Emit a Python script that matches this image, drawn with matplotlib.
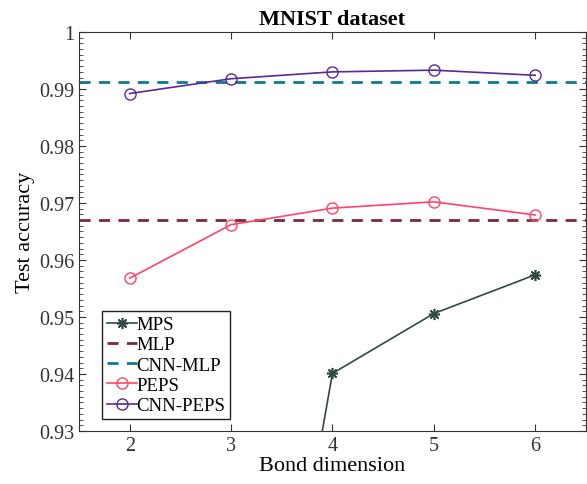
import numpy as np
import matplotlib
matplotlib.use('Agg')
import matplotlib.pyplot as plt
from matplotlib.ticker import MultipleLocator

plt.rcParams['font.family'] = ['Liberation Serif', 'DejaVu Serif']

# data
bond_dim = [2, 3, 4, 5, 6]
mps_dim = [3, 4, 5, 6]
mps_acc = [0.839, 0.9401, 0.9506, 0.9574]
mlp_acc = 0.9671
cnn_mlp_acc = 0.9913
peps_acc = [0.9568, 0.9662, 0.9691, 0.9702, 0.9679]
cnn_peps_acc = [0.9892, 0.9918, 0.9930, 0.9933, 0.9924]

xlim = (1.5, 6.5)

fig = plt.figure(figsize=(5.87, 4.85), dpi=100)
ax = fig.add_axes([0.1346, 0.1093, 0.8634, 0.8227])

ax.plot(mps_dim, mps_acc, color='#2f4a44', marker=(8, 2, 0), markersize=8,
        linewidth=1.2, label='MPS', markeredgewidth=1.2)
ax.plot(xlim, [mlp_acc, mlp_acc], color='#7a2a40', linestyle=(0, (4, 3)),
        linewidth=2.0, label='MLP')
ax.plot(xlim, [cnn_mlp_acc, cnn_mlp_acc], color='#0d7a92',
        linestyle=(0, (4, 3)), linewidth=2.0, label='CNN-MLP')
ax.plot(bond_dim, peps_acc, color='#ff4468', marker='o', markersize=8,
        markerfacecolor='none', linewidth=1.2, label='PEPS')
ax.plot(bond_dim, cnn_peps_acc, color='#5a2a94', marker='o', markersize=8,
        markerfacecolor='none', linewidth=1.2, label='CNN-PEPS')

ax.set_xlim(*xlim)
ax.set_ylim(0.93, 1.0)
ax.set_xticks(bond_dim)
ax.set_yticks([0.93, 0.94, 0.95, 0.96, 0.97, 0.98, 0.99, 1.0])
ax.set_yticklabels(['0.93', '0.94', '0.95', '0.96', '0.97', '0.98', '0.99', '1'])
ax.yaxis.set_minor_locator(MultipleLocator(0.001))
ax.tick_params(which='both', direction='in', top=True, right=True,
               labelsize=14.5, colors='#333333')
ax.tick_params(which='major', length=5)
ax.tick_params(which='minor', length=3)
for s in ax.spines.values():
    s.set_color('#333333')

ax.set_xlabel('Bond dimension', fontsize=16, labelpad=1)
ax.set_ylabel('Test accuracy', fontsize=16, labelpad=3)
ax.set_title('MNIST dataset', fontsize=16, fontweight='bold', pad=6)

leg = ax.legend(loc='lower left', bbox_to_anchor=(0.045, 0.03), fontsize=13.5,
                handlelength=1.6, handletextpad=0.0, borderpad=0.25,
                borderaxespad=0, labelspacing=0.17, fancybox=False,
                framealpha=1)
leg.get_frame().set_edgecolor('#222222')
leg.get_frame().set_linewidth(1.0)

plt.savefig('out.png', dpi=100, facecolor='white')
